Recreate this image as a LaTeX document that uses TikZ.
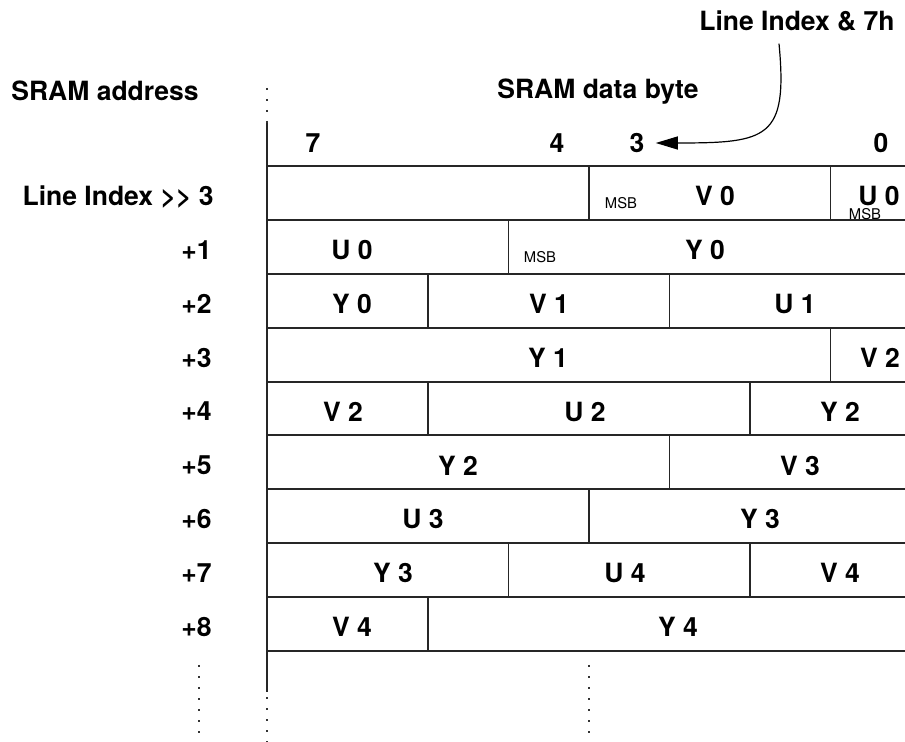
\documentclass[tikz,border=0pt]{standalone}
\usepackage{fontspec}
\setmainfont{TeX Gyre Heros}
\usetikzlibrary{arrows.meta,positioning,calc}

\begin{document}
\begin{tikzpicture}[
  x=0.5pt,y=-0.5pt,
  lbl/.style={font=\bfseries\fontsize{13.25}{15}\selectfont,inner sep=2pt},
  fld/.style={lbl},
  msb/.style={font=\fontsize{7.4}{9}\selectfont,inner sep=1pt},
  rowlbl/.style={lbl,anchor=east},
  hline/.style={draw=black!85,line width=1pt},
  vline/.style={draw=black!85,line width=0.7pt},
  dotline/.style={draw=black!80,line width=0.9pt,dash pattern=on 0.9pt off 4.6pt},
  arrow/.style={-{Triangle[length=11pt,width=6.5pt]},line width=0.6pt}
]
\useasboundingbox (0,0) rectangle (905,742);

% ── Títulos ──────────────────────────────────────────────────────────────────
\node[lbl] (addr) at (105,91) {SRAM address};
\node[lbl] (data) at (598,92) {SRAM data byte};
\node[lbl] (lidx) at (797,21) {Line Index \& 7h};

% ── Números dos bits ─────────────────────────────────────────────────────────
\node[lbl] (b7) at (313,143) {7};
\node[lbl] (b4) at (557,143) {4};
\node[lbl] (b3) at (637,143) {3};
\node[lbl] (b0) at (881,143) {0};

% ── Grade da memória ─────────────────────────────────────────────────────────
\draw[vline,line width=1pt] (267,123) -- (267,692);
\draw[dotline] (267,88) -- (267,123);
\draw[dotline] (267,697) -- (267,742);
\draw[dotline] (199,665) -- (199,742);
\draw[dotline] (589,665) -- (589,742);
\foreach \r in {0,...,9}
  \draw[hline] (267,{166+53.9*\r}) -- (905,{166+53.9*\r});
% divisões de cada linha (k = índice da coluna de bit a partir do bit 7)
\foreach \r/\ks in {0/{4,7},1/3,2/{2,5},3/7,4/{2,6},5/5,6/4,7/{3,6},8/2}
  \foreach \k in \ks
    \draw[vline] ({267+80.5*\k},{166+53.9*\r}) -- ++(0,53.9);

% ── Endereços ────────────────────────────────────────────────────────────────
\node[rowlbl] (a0) at (218,197) {Line Index >\kern0pt> 3};
\foreach \r in {1,...,8}
  \node[rowlbl] (a\r) at (216,{196+53.9*\r}) {+\r};

% ── Campos ───────────────────────────────────────────────────────────────────
\node[msb] (m0)  at (621,203) {MSB};
\node[fld] (v0)  at (715,196) {V 0};
\node[fld] (u0)  at (879,196) {U 0};
\node[msb] (m0b) at (865,214) {MSB};

\node[fld] (u0b) at (352,250) {U 0};
\node[msb] (m1)  at (540,257) {MSB};
\node[fld] (y0)  at (705,250) {Y 0};

\node[fld] (y0b) at (352,304) {Y 0};
\node[fld] (v1)  at (549,304) {V 1};
\node[fld] (u1)  at (795,304) {U 1};

\node[fld] (y1)  at (548,358) {Y 1};
\node[fld] (v2)  at (880,358) {V 2};

\node[fld] (v2b) at (343,412) {V 2};
\node[fld] (u2)  at (585,412) {U 2};
\node[fld] (y2)  at (840,412) {Y 2};

\node[fld] (y2b) at (458,466) {Y 2};
\node[fld] (v3)  at (800,466) {V 3};

\node[fld] (u3)  at (423,519) {U 3};
\node[fld] (y3)  at (760,519) {Y 3};

\node[fld] (y3b) at (393,573) {Y 3};
\node[fld] (u4)  at (625,573) {U 4};
\node[fld] (v4)  at (840,573) {V 4};

\node[fld] (v4b) at (352,627) {V 4};
\node[fld] (y4)  at (678,627) {Y 4};

% ── Seta ─────────────────────────────────────────────────────────────────────
\draw[arrow] ([shift={(-18,8)}]lidx.south) .. controls +(9,95) and +(112,0) .. ([xshift=3.5pt]b3.east);
\end{tikzpicture}
\end{document}
